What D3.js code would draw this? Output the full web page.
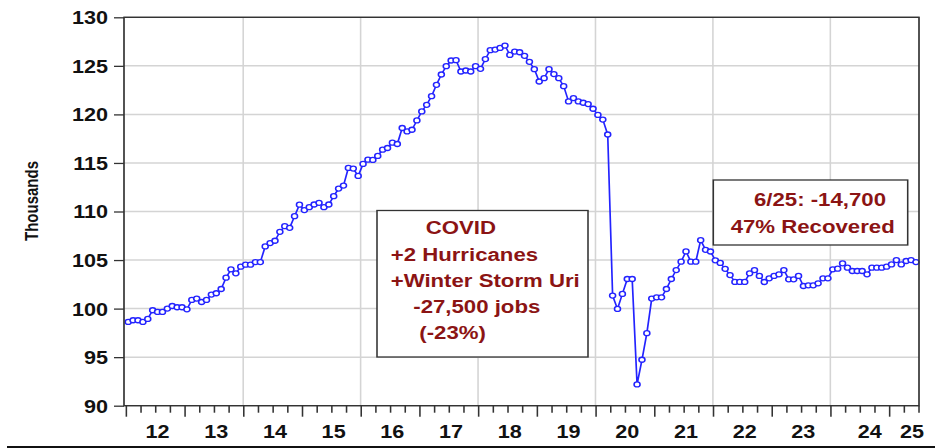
<!DOCTYPE html>
<html>
<head>
<meta charset="utf-8">
<script src="https://cdn.jsdelivr.net/npm/d3@7"></script>
<style>
body { margin: 0; background: #fff; }
svg { display: block; }
text { font-family: "Liberation Sans", Arial, sans-serif; font-weight: bold; }
</style>
</head>
<body>
<div id="chart"></div>
<script>
// monthly jobs (thousands), Jan 2012 .. Jun 2025
var jobs = [
  98.63, 98.80, 98.80, 98.63, 98.94, 99.83, 99.66, 99.66, 100.00, 100.27, 100.14, 100.14,
  99.93, 100.89, 101.03, 100.68, 100.89, 101.44, 101.58, 102.02, 103.18, 104.04, 103.63, 104.32,
  104.52, 104.52, 104.79, 104.79, 106.40, 106.75, 106.99, 107.91, 108.49, 108.32, 109.52, 110.70,
  110.15, 110.45, 110.72, 110.89, 110.45, 110.72, 111.58, 112.36, 112.67, 114.49, 114.42, 113.66,
  114.90, 115.34, 115.31, 115.72, 116.37, 116.54, 117.09, 116.95, 118.60, 118.25, 118.42, 119.38,
  120.31, 120.99, 121.88, 123.05, 124.11, 124.97, 125.55, 125.58, 124.42, 124.52, 124.42, 124.97,
  124.69, 125.70, 126.61, 126.68, 126.85, 127.09, 126.13, 126.47, 126.40, 126.03, 125.41, 124.66,
  123.39, 123.73, 124.66, 124.15, 123.73, 122.91, 121.34, 121.68, 121.34, 121.20, 121.06, 120.58,
  119.95, 119.47, 117.93, 101.34, 99.97, 101.51, 103.05, 103.05, 92.19, 94.73, 97.47, 101.03,
  101.16, 101.16, 102.02, 103.05, 103.97, 104.83, 105.89, 104.83, 104.83, 107.05, 106.05, 105.88,
  104.97, 104.70, 104.10, 103.45, 102.75, 102.75, 102.75, 103.63, 103.97, 103.36, 102.74, 103.12,
  103.36, 103.53, 103.97, 103.01, 103.01, 103.36, 102.33, 102.40, 102.40, 102.60, 103.12, 103.12,
  104.04, 104.11, 104.66, 104.21, 103.87, 103.87, 103.87, 103.53, 104.21, 104.21, 104.21, 104.32,
  104.55, 105.00, 104.55, 104.90, 105.00, 104.79
];
var startYear = 2012;
var yTicks = [90, 95, 100, 105, 110, 115, 120, 125, 130];
var yearLabels = ["12", "13", "14", "15", "16", "17", "18", "19", "20", "21", "22", "23", "24", "25"];
// where each year label sits (the last two are nudged in the original)
var yearLabelAt = [2012.53, 2013.53, 2014.53, 2015.53, 2016.53, 2017.53, 2018.53,
                   2019.53, 2020.53, 2021.53, 2022.53, 2023.53, 2024.66, 2025.38];
var gridYears = [2014, 2016, 2018, 2020, 2022, 2024];
var covidNote = ["COVID", "+2 Hurricanes", "+Winter Storm Uri", "-27,500 jobs", "(-23%)"];
var recoveryNote = ["6/25: -14,700", "47% Recovered"];

var W = 935, H = 448;
var SX = 1.2; // the source picture is stretched sideways
var plotL = 124, plotR = 919, plotT = 17.3, plotB = 405.7;

function px(v) { return v / SX; }

var svg = d3.select("#chart").append("svg")
    .attr("width", W)
    .attr("height", H);

var g = svg.append("g").attr("transform", "scale(" + SX + ",1)");

var x = d3.scaleLinear().domain([2011.97, 2025.51]).range([px(plotL), px(plotR)]);
var y = d3.scaleLinear().domain([90, 130]).range([plotB, plotT]);

var points = jobs.map(function(v, i) {
    return {t: startYear + (i + 0.5) / 12, v: v};
});

// grid
g.selectAll(".hgrid").data(yTicks).enter().append("line")
    .attr("class", "hgrid")
    .attr("x1", px(plotL)).attr("x2", px(plotR))
    .attr("y1", function(d) { return y(d); }).attr("y2", function(d) { return y(d); })
    .style("stroke", "#d4d4d4").style("stroke-width", 1.5);

g.selectAll(".vgrid").data(gridYears).enter().append("line")
    .attr("class", "vgrid")
    .attr("x1", function(d) { return x(d); }).attr("x2", function(d) { return x(d); })
    .attr("y1", plotT).attr("y2", plotB)
    .style("stroke", "#d4d4d4").style("stroke-width", 1.3);

// series
var line = d3.line()
    .x(function(d) { return x(d.t); })
    .y(function(d) { return y(d.v); });

g.append("path")
    .datum(points)
    .attr("d", line)
    .style("fill", "none")
    .style("stroke", "#2323ff")
    .style("stroke-width", 1.4);

g.selectAll(".dot").data(points).enter().append("circle")
    .attr("class", "dot")
    .attr("cx", function(d) { return x(d.t); })
    .attr("cy", function(d) { return y(d.v); })
    .attr("r", 2.5)
    .style("fill", "#fff")
    .style("stroke", "#2323ff")
    .style("stroke-width", 1.3);

// frame
g.append("rect")
    .attr("x", px(plotL)).attr("y", plotT)
    .attr("width", px(plotR) - px(plotL)).attr("height", plotB - plotT)
    .style("fill", "none").style("stroke", "#333").style("stroke-width", 1.4);

// y axis
var yAxis = g.append("g")
    .attr("transform", "translate(" + px(plotL) + ",0)")
    .call(d3.axisLeft(y).tickValues(yTicks).tickSize(px(10)).tickPadding(px(6)));
yAxis.select(".domain").remove();
yAxis.selectAll("line").style("stroke", "#333").style("stroke-width", 1.3);
yAxis.selectAll("text")
    .style("font-size", "18px")
    .style("fill", "#111")
    .attr("dy", "0.36em");

// x axis: quarterly ticks, longer at each year
var quarters = [];
for (var q = 2012; q <= 2025.5; q += 0.25) quarters.push(q);

var xAxis = g.append("g")
    .attr("transform", "translate(0," + plotB + ")")
    .call(d3.axisBottom(x).tickValues(quarters).tickSize(7).tickFormat(""));
xAxis.select(".domain").remove();
xAxis.selectAll("line")
    .attr("y2", function(d) { return d % 1 === 0 ? 11 : 7; })
    .style("stroke", "#333").style("stroke-width", 1.3);

var xLab = g.append("g")
    .attr("transform", "translate(0," + plotB + ")")
    .call(d3.axisBottom(x)
        .tickValues(yearLabelAt)
        .tickSize(0).tickPadding(19.5)
        .tickFormat(function(d, i) { return yearLabels[i]; }));
xLab.select(".domain").remove();
xLab.selectAll("text").style("font-size", "18px").style("fill", "#111");

// y title
svg.append("text")
    .attr("transform", "translate(38,201) rotate(-90) scale(1,1.25)")
    .attr("text-anchor", "middle")
    .style("font-size", "15px")
    .style("fill", "#111")
    .text("Thousands");

// notes
function note(x0, y0, x1, y1, lines, xs, ys) {
    g.append("rect")
        .attr("x", px(x0)).attr("y", y0)
        .attr("width", px(x1 - x0)).attr("height", y1 - y0)
        .style("fill", "#fff").style("stroke", "#333").style("stroke-width", 1.3);
    g.selectAll(null).data(lines).enter().append("text")
        .attr("x", function(d, i) { return px(xs[i]); })
        .attr("y", function(d, i) { return ys[i]; })
        .style("font-size", "18.5px")
        .style("fill", "#8b1414")
        .text(function(d) { return d; });
}

note(377, 210.5, 588, 357, covidNote,
     [425.7, 390.7, 390.7, 413.3, 419.3],
     [234, 260.7, 287.3, 312.7, 339.3]);
note(713.3, 180, 907.7, 245, recoveryNote,
     [754, 730.7],
     [206, 233.3]);

// dark strip along the bottom edge of the picture
svg.append("rect")
    .attr("x", 7).attr("y", 446)
    .attr("width", W - 7).attr("height", 2)
    .style("fill", "#111");
</script>
</body>
</html>
